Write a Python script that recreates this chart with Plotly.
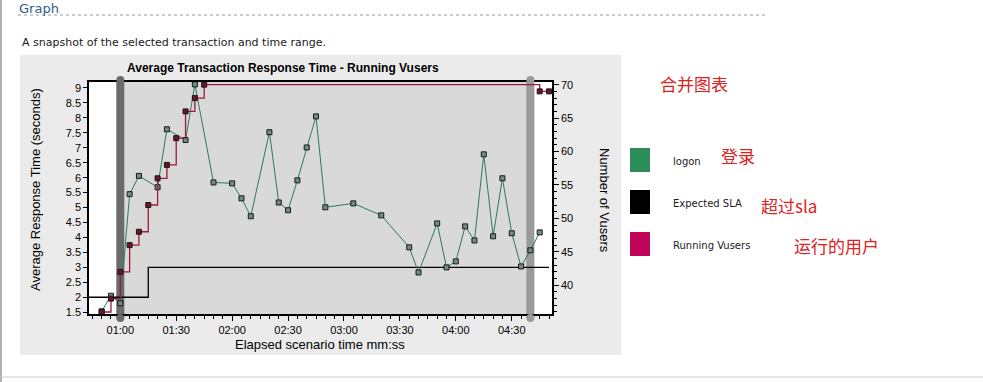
import plotly.graph_objects as go

# ---------------- data ----------------
logon_t = [50, 55, 60, 65, 70, 80, 85, 95, 100, 110, 120, 125, 130, 140, 145, 150,
           155, 160, 165, 170, 185, 200, 215, 220, 230, 235, 240, 245, 250, 255,
           260, 265, 270, 275, 280, 285]
logon_v = [1.53, 2.05, 1.80, 5.45, 6.06, 5.68, 7.62, 7.26, 9.12, 5.84, 5.81, 5.31,
           4.71, 7.52, 5.17, 4.91, 5.91, 7.01, 8.05, 5.01, 5.14, 4.74, 3.67, 2.83,
           4.47, 3.00, 3.20, 4.37, 3.90, 6.78, 4.04, 5.98, 4.14, 3.03, 3.57, 4.17]

vusers_t = [50, 55, 60, 65, 70, 75, 80, 85, 90, 95, 100, 105, 285, 290]
vusers_v = [36, 38, 42, 46, 48, 52, 56, 58, 62, 66, 68, 70, 69, 69]

sla_t = [43.2, 75, 290]
sla_v = [2, 3, 3]

x_tickvals = [60, 90, 120, 150, 180, 210, 240, 270]
x_ticktext = ["01:00", "01:30", "02:00", "02:30", "03:00", "03:30", "04:00", "04:30"]
y1_tickvals = [1.5, 2, 2.5, 3, 3.5, 4, 4.5, 5, 5.5, 6, 6.5, 7, 7.5, 8, 8.5, 9]
y1_ticktext = ["1.5", "2", "2.5", "3", "3.5", "4", "4.5", "5", "5.5", "6", "6.5",
               "7", "7.5", "8", "8.5", "9"]
y2_tickvals = [40, 45, 50, 55, 60, 65, 70]
y2_ticktext = ["40", "45", "50", "55", "60", "65", "70"]

sel_start, sel_end = 60, 280

legend_names = ["logon", "Expected SLA", "Running Vusers"]
legend_colors = ["#2e8b5a", "#000000", "#c0045a"]
legend_notes = ["登录", "超过sla", "运行的用户"]

# ---------------- geometry ----------------
W, H = 983, 382
PL, PR, PT, PB = 89, 552, 82, 314
XR = [43.2, 291.6]


def fx(px):
    return (px - PL) / (PR - PL)


def fy(py):
    return (PB - py) / (PB - PT)


AXF = "Liberation Sans, Arial, sans-serif"
CJK = "Noto Sans CJK SC"
VER = "DejaVu Sans, Verdana, sans-serif"

fig = go.Figure()

fig.add_trace(go.Scatter(x=sla_t, y=sla_v, mode="lines", yaxis="y",
                         line=dict(color="#000000", width=1.3, shape="hv"),
                         showlegend=False, hoverinfo="skip"))
fig.add_trace(go.Scatter(x=logon_t, y=logon_v, mode="lines+markers", yaxis="y",
                         line=dict(color="#2a7a66", width=1),
                         marker=dict(symbol="square", size=5, color="#6f8f80",
                                     line=dict(color="#1a1a1a", width=1)),
                         showlegend=False))
fig.add_trace(go.Scatter(x=vusers_t, y=vusers_v, mode="lines+markers", yaxis="y2",
                         line=dict(color="#a0183c", width=1.3, shape="hv"),
                         marker=dict(symbol="square", size=5, color="#6a1428",
                                     line=dict(color="#1a1a1a", width=1)),
                         showlegend=False))

shapes = []
# chart panel
shapes.append(dict(type="rect", xref="paper", yref="paper", layer="below",
                   x0=fx(20), x1=fx(621), y0=fy(355), y1=fy(55),
                   fillcolor="#ebebeb", line=dict(width=0)))
# plot area white
shapes.append(dict(type="rect", xref="paper", yref="paper", layer="below",
                   x0=0, x1=1, y0=0, y1=1, fillcolor="#ffffff", line=dict(width=0)))
# selected range
shapes.append(dict(type="rect", xref="x", yref="paper", layer="below",
                   x0=sel_start, x1=sel_end, y0=0, y1=1,
                   fillcolor="#d9d9d9", line=dict(width=0)))
# selection bars
bw = 4 * (XR[1] - XR[0]) / (PR - PL)
for xv, col in [(sel_start, "#6b6b6b"), (sel_end, "#9a9a9a")]:
    shapes.append(dict(type="rect", xref="x", yref="paper", layer="below",
                       x0=xv - bw, x1=xv + bw, y0=fy(318), y1=fy(80),
                       fillcolor=col, line=dict(width=0)))
    for cy in (80, 318):
        shapes.append(dict(type="circle", xref="x", yref="paper", layer="above",
                           x0=xv - bw, x1=xv + bw, y0=fy(cy + 4), y1=fy(cy - 4),
                           fillcolor=col, line=dict(width=0)))
# dotted rule under "Graph"
shapes.append(dict(type="line", xref="paper", yref="paper",
                   x0=fx(18), x1=fx(768), y0=fy(15), y1=fy(15),
                   line=dict(color="#9a9a9a", width=1, dash="dot")))
# page left border & bottom border
shapes.append(dict(type="line", xref="paper", yref="paper",
                   x0=fx(1), x1=fx(1), y0=fy(382), y1=fy(0),
                   line=dict(color="#b0b0b0", width=2)))
shapes.append(dict(type="line", xref="paper", yref="paper",
                   x0=fx(0), x1=fx(983), y0=fy(377), y1=fy(377),
                   line=dict(color="#c8c8c8", width=1)))

annotations = []


def ann(text, px, py, size, color="#000000", family=AXF, xanchor="center",
        angle=0, yanchor="middle"):
    annotations.append(dict(text=text, x=fx(px), y=fy(py), xref="paper", yref="paper",
                            showarrow=False, xanchor=xanchor, yanchor=yanchor,
                            textangle=angle, font=dict(size=size, color=color,
                                                       family=family)))


ann("Graph", 17, 8, 13, "#2b5b8c", VER, xanchor="left")
ann("A snapshot of the selected transaction and time range.", 20, 43, 11,
    "#1a1a1a", VER, xanchor="left")
ann("<b>Average Transaction Response Time - Running Vusers</b>", 283, 68, 12)
ann("Average Response Time (seconds)", 35, 190, 13, angle=-90)
ann("Number of Vusers", 605, 200, 13, angle=90)
ann("Elapsed scenario time mm:ss", 320, 344, 13)
ann("合并图表", 658, 84, 17, "#e0201c", CJK, xanchor="left")

leg_y = [160, 202, 244]
note_x = [719, 759, 792]
note_y = [155, 205, 245]
for i, name in enumerate(legend_names):
    shapes.append(dict(type="rect", xref="paper", yref="paper",
                       x0=fx(630), x1=fx(650), y0=fy(leg_y[i] + 12), y1=fy(leg_y[i] - 12),
                       fillcolor=legend_colors[i], line=dict(width=0)))
    ann(name, 671, leg_y[i] + 1, 10, "#1a1a1a", VER, xanchor="left")
    ann(legend_notes[i], note_x[i], note_y[i], 17, "#e0201c", CJK, xanchor="left")

fig.update_layout(
    width=W, height=H,
    margin=dict(l=PL, r=W - PR, t=PT, b=H - PB, pad=0),
    paper_bgcolor="#ffffff", plot_bgcolor="rgba(0,0,0,0)",
    showlegend=False, shapes=shapes, annotations=annotations,
    font=dict(family=AXF, size=11, color="#000000"),
    xaxis=dict(range=XR, tickmode="array", tickvals=x_tickvals, ticktext=x_ticktext,
               showgrid=False, zeroline=False, showline=True, mirror=True,
               linecolor="#000000", linewidth=1.5, ticks="outside", ticklen=5,
               tickcolor="#000000", tickfont=dict(size=11),
               minor=dict(dtick=5, tick0=0, ticks="outside", ticklen=3,
                          tickcolor="#000000", showgrid=False)),
    yaxis=dict(range=[1.44, 9.2], tickmode="array", tickvals=y1_tickvals,
               ticktext=y1_ticktext, showgrid=False, zeroline=False, showline=True,
               mirror=True, linecolor="#000000", linewidth=1.5, ticks="outside",
               ticklen=4, tickcolor="#000000", tickfont=dict(size=11)),
    yaxis2=dict(range=[35.7, 70.4], overlaying="y", side="right", tickmode="array",
                tickvals=y2_tickvals, ticktext=y2_ticktext, showgrid=False,
                zeroline=False, showline=True, linecolor="#000000", linewidth=1.5,
                ticks="outside", ticklen=5, tickcolor="#000000", tickfont=dict(size=11),
                minor=dict(dtick=1, tick0=0, ticks="outside", ticklen=3,
                           tickcolor="#000000", showgrid=False)),
)

fig.write_html("out.html", config={"displayModeBar": False},
               post_script="document.body.style.margin='0';"
                           "document.body.style.overflow='hidden';")
